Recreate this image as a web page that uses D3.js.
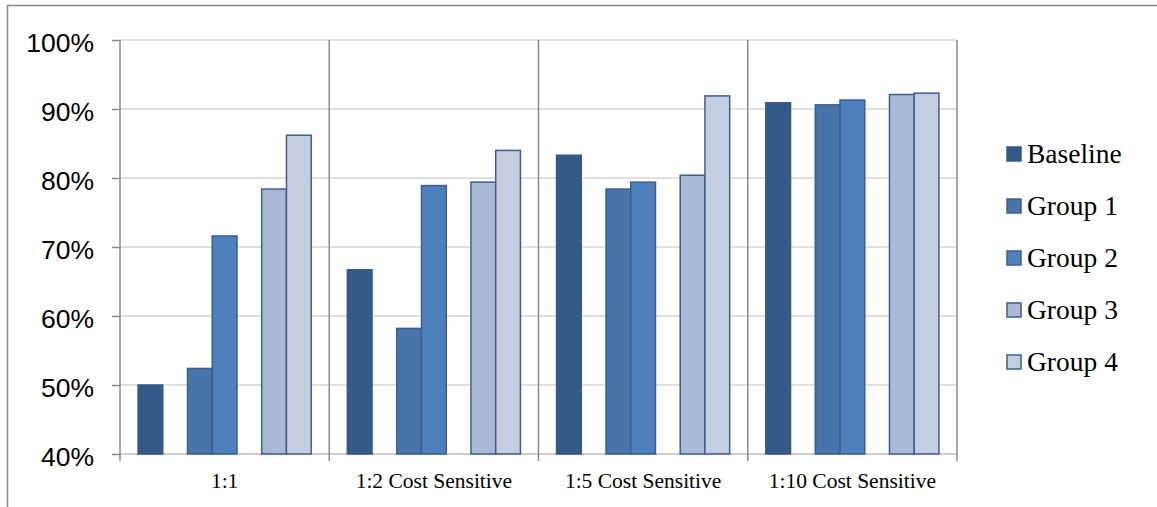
<!DOCTYPE html>
<html lang="en">
<head>
  <meta charset="utf-8">
  <title>Grouped Bar Chart</title>
  <script src="https://d3js.org/d3.v7.min.js"></script>
  <style>
    body { margin: 0; background: #fff; }
  </style>
</head>
<body>
  <svg width="1157" height="507"></svg>
  <script>
    const categories = ["1:1", "1:2 Cost Sensitive", "1:5 Cost Sensitive", "1:10 Cost Sensitive"];
    // slots inside each category; the two blank ones are gaps in the original
    const slots = ["Baseline", "gapA", "Group 1", "Group 2", "gapB", "Group 3", "Group 4"];
    const seriesNames = ["Baseline", "Group 1", "Group 2", "Group 3", "Group 4"];
    const baseline = [0.500, 0.667, 0.833, 0.909];
    const group1 = [0.524, 0.582, 0.784, 0.906];
    const group2 = [0.716, 0.789, 0.794, 0.913];
    const group3 = [0.784, 0.794, 0.804, 0.921];
    const group4 = [0.862, 0.840, 0.919, 0.923];
    const yTicks = [0.4, 0.5, 0.6, 0.7, 0.8, 0.9, 1.0];

    const colors = ["#345a87", "#4674ab", "#4e80bd", "#aab9d6", "#c4cee1"];
    const strokeCol = "#3b5f8e";

    const values = [baseline, group1, group2, group3, group4];
    const rows = [];
    seriesNames.forEach((s, i) => {
      categories.forEach((c, j) => rows.push({ series: s, cat: c, value: values[i][j], idx: i }));
    });

    const svg = d3.select("svg");
    const plotL = 120, plotR = 957, plotT = 40, plotB = 454;

    // outer frame (cut off at right and bottom)
    svg.append("path")
      .attr("d", "M7.5,507 L7.5,5.5 L1157,5.5")
      .attr("fill", "none")
      .attr("stroke", "#8a8a8a")
      .attr("stroke-width", 1.5);

    const x0 = d3.scaleBand().domain(categories).range([plotL, plotR]).padding(0);
    const x1 = d3.scaleBand().domain(slots).range([0, x0.bandwidth()]).paddingInner(0).paddingOuter(0.73);
    const y = d3.scaleLinear().domain([0.4, 1.0]).range([plotB, plotT]);

    // gridlines
    svg.append("g").selectAll("line").data(yTicks).join("line")
      .attr("x1", plotL).attr("x2", plotR)
      .attr("y1", d => y(d)).attr("y2", d => y(d))
      .attr("stroke", d => d === 0.4 ? "#bdbdbd" : "#d6d6d6")
      .attr("stroke-width", 1.5);

    // y axis
    const yAxis = svg.append("g")
      .attr("transform", `translate(${plotL},0)`)
      .call(d3.axisLeft(y).tickValues(yTicks).tickFormat(d3.format(".0%")).tickSize(8).tickPadding(18));
    yAxis.select(".domain").remove();
    yAxis.selectAll(".tick line").attr("stroke", "#8a8a8a").attr("stroke-width", 1.5);
    yAxis.selectAll(".tick text")
      .attr("font-family", "'Liberation Sans', Arial, sans-serif")
      .attr("font-size", 26.5)
      .attr("fill", "#000")
      .attr("dy", "0.45em");

    // category separators
    const seps = categories.map(c => x0(c)).concat([plotR]);
    svg.append("g").selectAll("line").data(seps).join("line")
      .attr("x1", d => d).attr("x2", d => d)
      .attr("y1", plotT).attr("y2", plotB + 7)
      .attr("stroke", "#8a8a8a")
      .attr("stroke-width", 1.5);

    // bars
    svg.append("g").selectAll("rect").data(rows).join("rect")
      .attr("x", d => x0(d.cat) + x1(d.series))
      .attr("y", d => y(d.value))
      .attr("width", x1.bandwidth())
      .attr("height", d => y(0.4) - y(d.value))
      .attr("fill", d => colors[d.idx])
      .attr("stroke", d => d.idx === 0 ? colors[0] : strokeCol)
      .attr("stroke-width", 1.5);

    // category labels
    svg.append("g").selectAll("text").data(categories).join("text")
      .attr("x", d => x0(d) + x0.bandwidth() / 2)
      .attr("y", 488)
      .attr("text-anchor", "middle")
      .attr("font-family", "'Liberation Serif', 'Times New Roman', serif")
      .attr("font-size", 21.5)
      .attr("fill", "#000")
      .text(d => d);

    // legend
    const legend = svg.append("g").selectAll("g").data(seriesNames).join("g")
      .attr("transform", (d, i) => `translate(1007,${147 + i * 52})`);
    legend.append("rect")
      .attr("width", 14).attr("height", 14)
      .attr("fill", (d, i) => colors[i])
      .attr("stroke", (d, i) => i === 0 ? colors[0] : strokeCol)
      .attr("stroke-width", 1.5);
    legend.append("text")
      .attr("x", 20).attr("y", 16)
      .attr("font-family", "'Liberation Serif', 'Times New Roman', serif")
      .attr("font-size", 27.5)
      .attr("fill", "#000")
      .text(d => d);
  </script>
</body>
</html>
